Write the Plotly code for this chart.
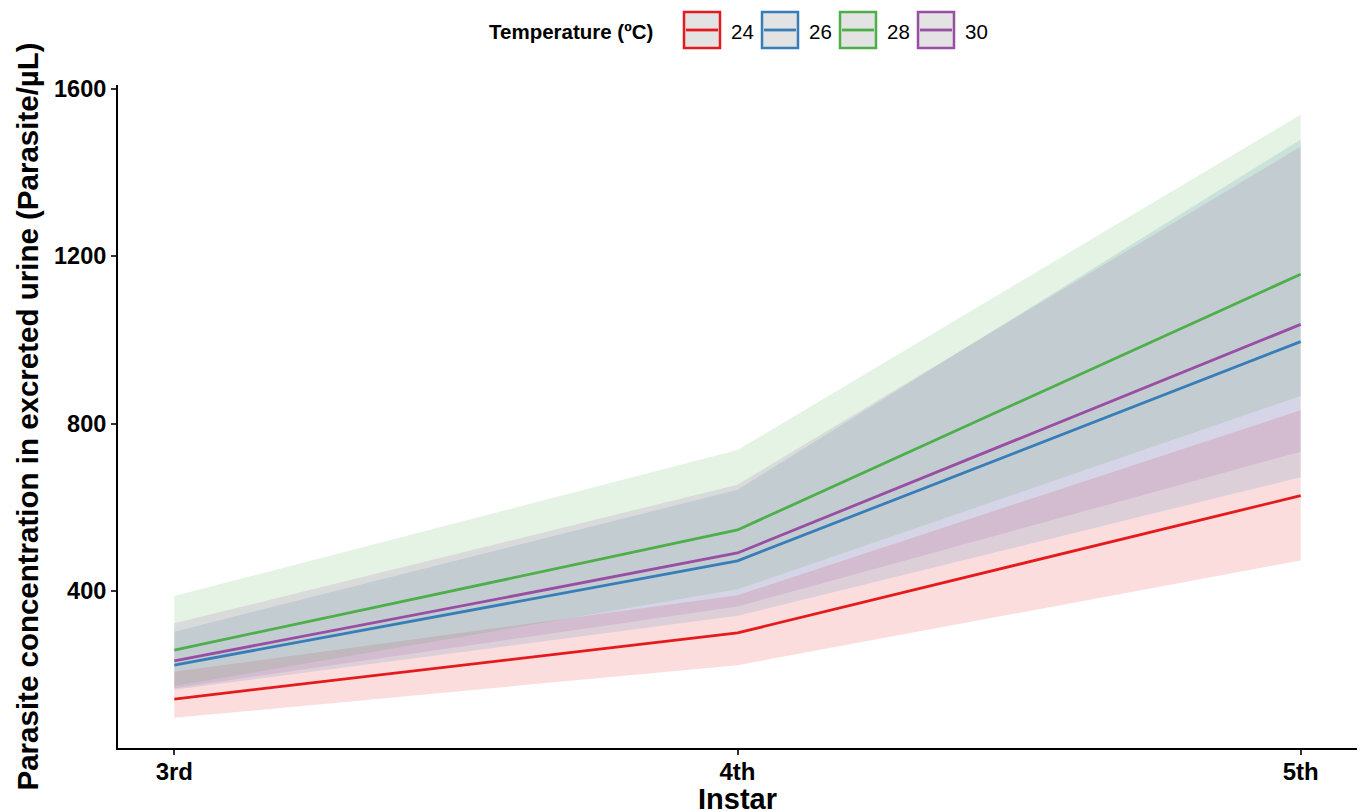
import plotly.graph_objects as go

# ---- data -------------------------------------------------------------
instars = ["3rd", "4th", "5th"]
instar_pos = [3, 4, 5]
temps = ["24", "26", "28", "30"]
colors = ["#E41A1C", "#377EB8", "#4DAF4A", "#984EA3"]
fills = ["rgba(228,26,28,0.15)", "rgba(55,126,184,0.15)",
         "rgba(77,175,74,0.15)", "rgba(152,78,163,0.15)"]

conc_24 = [142, 300, 628]
lower_24 = [97, 223, 473]
upper_24 = [207, 390, 832]

conc_26 = [223, 472, 996]
lower_26 = [164, 341, 672]
upper_26 = [303, 642, 1479]

conc_28 = [259, 546, 1157]
lower_28 = [173, 404, 866]
upper_28 = [388, 737, 1538]

conc_30 = [233, 491, 1037]
lower_30 = [168, 363, 733]
upper_30 = [323, 654, 1462]

y_ticks = [400, 800, 1200, 1600]

series = [
    (conc_24, lower_24, upper_24),
    (conc_26, lower_26, upper_26),
    (conc_28, lower_28, upper_28),
    (conc_30, lower_30, upper_30),
]

# ---- layout geometry (pixels) ------------------------------------------
W, H = 1364, 812
L, R, T, B = 118, 7, 85, 64
PW, PH = W - L - R, H - T - B
FONT = "Liberation Sans, Arial, Helvetica, sans-serif"


def px(x):
    return (x - L) / PW


def py(y):
    return (H - B - y) / PH


fig = go.Figure()

# confidence ribbons
for (mid, lo, hi), fc in zip(series, fills):
    fig.add_trace(go.Scatter(x=instar_pos, y=lo, mode="lines",
                             line=dict(width=0), showlegend=False,
                             hoverinfo="skip"))
    fig.add_trace(go.Scatter(x=instar_pos, y=hi, mode="lines",
                             line=dict(width=0), fill="tonexty",
                             fillcolor=fc, showlegend=False,
                             hoverinfo="skip"))

# mean lines
for (mid, lo, hi), col, t in zip(series, colors, temps):
    fig.add_trace(go.Scatter(x=instar_pos, y=mid, mode="lines", name=t,
                             line=dict(color=col, width=2.8),
                             showlegend=False))

# legend drawn as ggplot-style keys
shapes = []
annotations = []
annotations.append(dict(text="<b>Temperature (ºC)</b>", x=px(487), y=py(31),
                        xref="paper", yref="paper", xanchor="left",
                        yanchor="middle", showarrow=False,
                        font=dict(family=FONT, size=20.5, color="black")))
key_left = [684, 762, 840, 918]
for t, col, kx in zip(temps, colors, key_left):
    shapes.append(dict(type="rect", xref="paper", yref="paper",
                       x0=px(kx), x1=px(kx + 36), y0=py(48), y1=py(12),
                       fillcolor="#E3E3E3", line=dict(color=col, width=2.5)))
    shapes.append(dict(type="line", xref="paper", yref="paper",
                       x0=px(kx + 2), x1=px(kx + 34), y0=py(30), y1=py(30),
                       line=dict(color=col, width=2.8)))
    annotations.append(dict(text=t, x=px(kx + 45), y=py(31),
                            xref="paper", yref="paper", xanchor="left",
                            yanchor="middle", showarrow=False,
                            font=dict(family=FONT, size=20.5, color="black")))

# axis titles
annotations.append(dict(
    text="<b>Parasite concentration in excreted urine (Parasite/µL)</b>",
    x=px(27), y=py((T + H - B) / 2), xref="paper", yref="paper",
    xanchor="center", yanchor="middle", textangle=-90, showarrow=False,
    font=dict(family=FONT, size=29.5, color="black")))
annotations.append(dict(
    text="<b>Instar</b>", x=px(L + PW / 2), y=py(799), xref="paper",
    yref="paper", xanchor="center", yanchor="middle", showarrow=False,
    font=dict(family=FONT, size=29, color="black")))

fig.update_layout(
    width=W, height=H,
    margin=dict(l=L, r=R, t=T, b=B, autoexpand=False),
    paper_bgcolor="white", plot_bgcolor="white",
    shapes=shapes, annotations=annotations, showlegend=False,
    font=dict(family=FONT, color="black"),
)
fig.update_xaxes(
    range=[2.9, 5.1], tickvals=instar_pos,
    ticktext=[f"<b>{s}</b>" for s in instars],
    showline=True, linecolor="black", linewidth=2, mirror=False,
    ticks="outside", ticklen=5, tickwidth=2, tickcolor="#333333",
    ticklabelstandoff=-4,
    showgrid=False, zeroline=False,
    tickfont=dict(family=FONT, size=24, color="black"),
)
fig.update_yaxes(
    range=[25, 1609], tickvals=y_ticks,
    ticktext=[f"<b>{v}</b>" for v in y_ticks],
    showline=True, linecolor="black", linewidth=2, mirror=False,
    ticks="outside", ticklen=5, tickwidth=2, tickcolor="#333333",
    showgrid=False, zeroline=False,
    tickfont=dict(family=FONT, size=23.5, color="black"),
)

fig.write_html("out.html")
